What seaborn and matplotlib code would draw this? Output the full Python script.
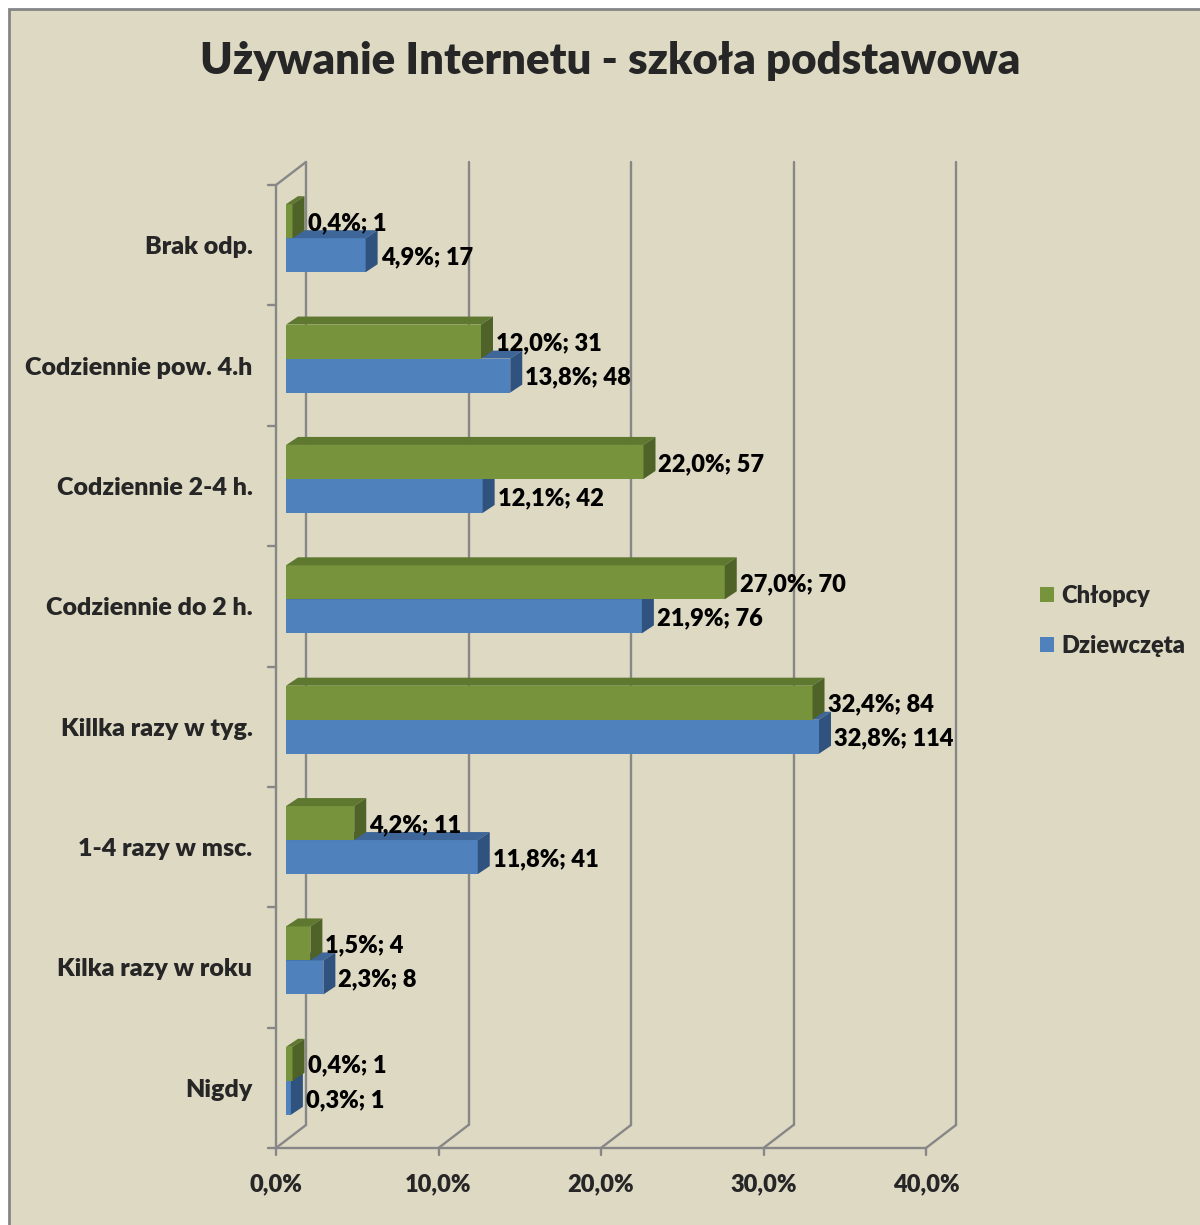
import pandas as pd
import numpy as np

import seaborn as sns
import matplotlib.pyplot as plt
from matplotlib.patches import Polygon, Rectangle
from matplotlib.lines import Line2D
from matplotlib.transforms import IdentityTransform, ScaledTranslation


# data
categories = ['Brak odp.', 'Codziennie pow. 4.h', 'Codziennie 2-4 h.', 'Codziennie do 2 h.',
              'Killka razy w tyg.', '1-4 razy w msc.', 'Kilka razy w roku', 'Nigdy']
boys_pct = [0.4, 12.0, 22.0, 27.0, 32.4, 4.2, 1.5, 0.4]
boys_n = [1, 31, 57, 70, 84, 11, 4, 1]
girls_pct = [4.9, 13.8, 12.1, 21.9, 32.8, 11.8, 2.3, 0.3]
girls_n = [17, 48, 42, 76, 114, 41, 8, 1]
groups = ['Chłopcy', 'Dziewczęta']
x_ticks = [0, 10, 20, 30, 40]
x_tick_labels = ['0,0%', '10,0%', '20,0%', '30,0%', '40,0%']
title = 'Używanie Internetu - szkoła podstawowa'

df = pd.DataFrame({
    'kategoria': categories * 2,
    'grupa': [groups[0]] * len(categories) + [groups[1]] * len(categories),
    'procent': boys_pct + girls_pct,
    'liczba': boys_n + girls_n,
})

front_col = {'Chłopcy': '#77933C', 'Dziewczęta': '#4F81BD'}
top_col = {'Chłopcy': '#5E7830', 'Dziewczęta': '#3E6699'}
side_col = {'Chłopcy': '#4F6228', 'Dziewczęta': '#30527F'}
grid_col = '#878787'
weight = 'heavy'

# pixel offsets of the pseudo 3D planes relative to the bar plane
FRONT = (-10, -7)
BACK = (20, 16)
DEPTH = (12, 8)

sns.set_style('white')
plt.rcParams['font.family'] = ['Lato', 'DejaVu Sans']
plt.rcParams['font.weight'] = weight

fig = plt.figure(figsize=(12, 12.25), dpi=100)
fig.patch.set_facecolor('white')
fig.add_artist(Rectangle((9 / 1200, -0.02), 1.0, 1.02 - 9 / 1225, transform=fig.transFigure,
                         facecolor='#DDD9C3', edgecolor='#858585', lw=2, zorder=-10))

ax = fig.add_axes([286 / 1200, 84 / 1225, 650 / 1200, (1141 - 178) / 1225])
sns.barplot(data=df, y='kategoria', x='procent', hue='grupa', order=categories,
            hue_order=groups, palette=front_col, width=0.565, saturation=1,
            linewidth=0, errorbar=None, ax=ax)
ax.set_xlim(0, 40)
ax.set_ylim(7.5, -0.5)
ax.patch.set_visible(False)
sns.despine(ax=ax, left=True, bottom=True)
ax.set_xlabel('')
ax.set_ylabel('')


def px(x, y, off=(0, 0)):
    p = ax.transData.transform((x, y))
    return p[0] + off[0], p[1] + off[1]


def seg(p0, p1):
    ax.add_line(Line2D([p0[0], p1[0]], [p0[1], p1[1]], transform=IdentityTransform(),
                       color=grid_col, lw=1.7, clip_on=False, zorder=0.5))


# back wall gridlines and floor
for t in x_ticks:
    seg(px(t, 7.5, BACK), px(t, -0.5, BACK))
    seg(px(t, 7.5, FRONT), px(t, 7.5, BACK))
    b = px(t, 7.5, FRONT)
    seg(b, (b[0], b[1] - 7))
seg(px(0, 7.5, FRONT), px(40, 7.5, FRONT))
seg(px(0, -0.5, FRONT), px(0, 7.5, FRONT))
seg(px(0, -0.5, FRONT), px(0, -0.5, BACK))
for yb in np.arange(-0.5, 8):
    a = px(0, yb, FRONT)
    seg(a, (a[0] - 8, a[1]))

# 3D faces and labels
fs = 17
for k, (cont, grp) in enumerate(zip(ax.containers, groups)):
    pcts = boys_pct if grp == 'Chłopcy' else girls_pct
    counts = boys_n if grp == 'Chłopcy' else girls_n
    z = 3 if grp == 'Chłopcy' else 2
    for bar, pct, n in zip(cont, pcts, counts):
        bar.set_zorder(z)
        x0, w = bar.get_x(), bar.get_width()
        y0, h = bar.get_y(), bar.get_height()
        ya, yb = px(0, y0)[1], px(0, y0 + h)[1]
        ytop, ybot = max(ya, yb), min(ya, yb)
        xl, xr = px(x0, 0)[0], px(x0 + w, 0)[0]
        dx, dy = DEPTH
        top = [(xl, ytop), (xr, ytop), (xr + dx, ytop + dy), (xl + dx, ytop + dy)]
        side = [(xr, ytop), (xr + dx, ytop + dy), (xr + dx, ybot + dy), (xr, ybot)]
        ax.add_patch(Polygon(top, closed=True, transform=IdentityTransform(),
                             facecolor=top_col[grp], lw=0, clip_on=False, zorder=z + 0.1))
        ax.add_patch(Polygon(side, closed=True, transform=IdentityTransform(),
                             facecolor=side_col[grp], lw=0, clip_on=False, zorder=z + 0.1))
        label = f'{pct:.1f}'.replace('.', ',') + f'%; {n}'
        ax.annotate(label, xy=(x0 + w, y0 + h / 2), xytext=(15, 0), textcoords='offset pixels',
                    ha='left', va='center_baseline', fontsize=fs, fontweight=weight,
                    color='black', zorder=5, annotation_clip=False)

# tick labels sit on the front plane
ax.set_xticks(x_ticks, x_tick_labels)
ax.tick_params(axis='both', length=0, labelsize=fs)
ax.tick_params(axis='x', pad=18)
ax.tick_params(axis='y', pad=17)
shift = ScaledTranslation(FRONT[0] / 100, FRONT[1] / 100, fig.dpi_scale_trans)
for lab in ax.get_xticklabels():
    lab.set_transform(lab.get_transform() + shift)
    lab.set_fontweight(weight)
for lab in ax.get_yticklabels():
    lab.set_transform(lab.get_transform() + shift)
    lab.set_fontweight(weight)
    lab.set_fontsize(18)

fig.text(610 / 1200, 1 - 61 / 1225, title, ha='center', va='center',
         fontsize=31.5, fontweight=weight)

sns.move_legend(ax, 'center left', bbox_to_anchor=(1019 / 1200, 1 - 621 / 1225),
                bbox_transform=fig.transFigure, frameon=False, title=None,
                handlelength=0.6, handleheight=0.6, handletextpad=0.3,
                labelspacing=1.2, fontsize=fs)
for t in ax.get_legend().get_texts():
    t.set_fontweight(weight)

fig.savefig('out.png', dpi=100, facecolor=fig.get_facecolor())
